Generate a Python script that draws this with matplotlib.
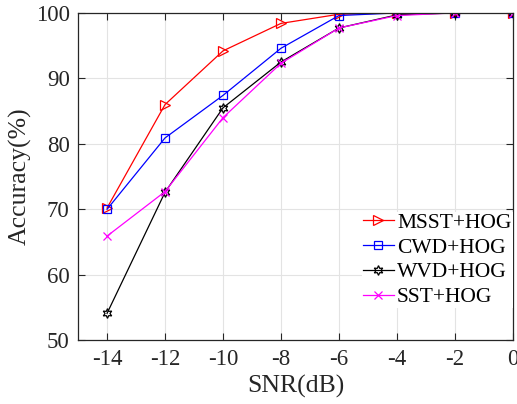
import matplotlib
matplotlib.use("Agg")
import matplotlib.pyplot as plt

plt.rcParams['font.family'] = ['Liberation Serif', 'DejaVu Serif']
plt.rcParams['axes.unicode_minus'] = False
plt.rcParams['mathtext.fontset'] = 'stix'

snr = [-14, -12, -10, -8, -6, -4, -2, 0]
msst = [70.2, 86.0, 94.2, 98.4, 99.8, 100.0, 100.0, 100.0]
cwd = [70.0, 80.9, 87.4, 94.6, 99.6, 100.0, 100.0, 100.0]
wvd = [54.1, 72.6, 85.5, 92.5, 97.7, 99.7, 100.0, 100.0]
sst = [65.9, 72.7, 84.0, 92.3, 97.7, 99.6, 100.0, 100.0]
labels = ['MSST+HOG', 'CWD+HOG', 'WVD+HOG', 'SST+HOG']

dark = '#262626'

fig = plt.figure(figsize=(5.17, 4.04), dpi=100)
ax = fig.add_axes([0.151, 0.158, 0.841, 0.81])

ax.plot(snr, msst, color='#ff0000', lw=0.9, marker='>', ms=7, mfc='none', mec='#ff0000', mew=0.9, label=labels[0])
ax.plot(snr, cwd, color='#0000ff', lw=0.9, marker='s', ms=6, mfc='none', mec='#0000ff', mew=0.9, label=labels[1])
ax.plot(snr, wvd, color='#000000', lw=0.9, marker=(6, 1, 0), ms=7, mfc='none', mec='#000000', mew=0.9, label=labels[2])
ax.plot(snr, sst, color='#ff00ff', lw=0.9, marker='x', ms=6, mfc='none', mec='#ff00ff', mew=0.9, label=labels[3])

ax.set_xlim(-15, 0)
ax.set_ylim(50, 100)
ax.set_xticks(snr)
ax.set_xticklabels([str(v) for v in snr])
ax.set_yticks([50, 60, 70, 80, 90, 100])
ax.grid(True, color='#e3e3e3', lw=0.8)
ax.set_axisbelow(True)
ax.tick_params(direction='in', top=True, right=True, labelsize=16.5, length=5, width=0.8,
               pad=6, colors=dark, labelcolor=dark)
for s in ax.spines.values():
    s.set_linewidth(0.9)
    s.set_color(dark)
ax.set_xlabel('SNR(dB)', fontsize=18.5, labelpad=4, color=dark)
ax.set_ylabel('Accuracy(%)', fontsize=18.5, labelpad=3, color=dark)

leg = ax.legend(loc='center left', bbox_to_anchor=(0.652, 0.245), fontsize=15.5, frameon=True,
                fancybox=False, edgecolor='white', framealpha=1.0, handlelength=1.45,
                handletextpad=0.15, labelspacing=0.22, borderpad=0.05, borderaxespad=0.0)
leg.get_frame().set_linewidth(0)
for t in leg.get_texts():
    t.set_color('#000000')

fig.savefig('out.png', dpi=100)
